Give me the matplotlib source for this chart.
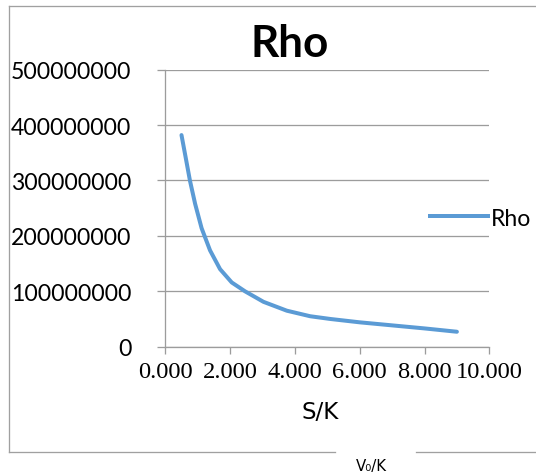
import matplotlib
matplotlib.use("Agg")
import matplotlib.pyplot as plt
from matplotlib.lines import Line2D
from matplotlib.font_manager import FontProperties

# Rho versus S/K
s_over_k = [0.5, 0.64, 0.76, 0.92, 1.12, 1.38, 1.69, 2.05, 2.46, 3.03, 3.75, 4.47,
            5.1, 6.0, 7.0, 8.0, 9.0]
rho = [382e6, 338e6, 300e6, 258e6, 214e6, 174e6, 140e6, 116e6, 100e6, 81e6, 65e6, 55e6,
       50e6, 44e6, 38.5e6, 33e6, 27e6]

x_ticks = [0, 2, 4, 6, 8, 10]
x_tick_labels = ["0.000", "2.000", "4.000", "6.000", "8.000", "10.000"]
y_ticks = [0, 100e6, 200e6, 300e6, 400e6, 500e6]
y_tick_labels = ["0", "100000000", "200000000", "300000000", "400000000", "500000000"]

W, H, DPI = 536, 477, 100
PT = 72 / DPI  # points per pixel

serif_fp = FontProperties(family=["Liberation Serif", "DejaVu Serif", "serif"],
                          size=24.5 * PT)
sans_fp = FontProperties(family=["Lato", "DejaVu Sans"], size=23 * PT)

fig = plt.figure(figsize=(W / DPI, H / DPI), dpi=DPI)
fig.patch.set_facecolor("white")

left, right, top, bottom = 165.3, 489.3, 70.7, 347.7
ax = fig.add_axes([left / W, 1 - bottom / H, (right - left) / W, (bottom - top) / H])

grid_c = "#9c9c9c"
line_c = "#5b9bd5"

ax.plot(s_over_k, rho, color=line_c, lw=4 * PT, solid_capstyle="round",
        solid_joinstyle="round", label="Rho", zorder=3)

ax.set_xlim(0, 10)
ax.set_ylim(0, 500e6)
ax.grid(axis="y", color=grid_c, lw=1.3 * PT)
ax.set_axisbelow(True)
for side in ("top", "right"):
    ax.spines[side].set_visible(False)
for side in ("left", "bottom"):
    ax.spines[side].set_color(grid_c)
    ax.spines[side].set_linewidth(1.3 * PT)

ax.tick_params(axis="y", direction="out", length=8 * PT, width=1.3 * PT, color=grid_c,
               pad=26 * PT)
ax.tick_params(axis="x", direction="out", length=7 * PT, width=1.3 * PT, color=grid_c,
               pad=7 * PT)

ax.set_xticks(x_ticks)
ax.set_xticklabels(x_tick_labels)
ax.set_yticks(y_ticks)
ax.set_yticklabels(y_tick_labels)

# Axis title
fig.text(320 / W, 1 - 413 / H, "S/K", ha="center", va="center",
         family="DejaVu Sans", fontsize=23 * PT)

# Chart title
fig.text(290 / W, 1 - 56.7 / H, "Rho", ha="center", va="baseline",
         family="Lato", weight="bold", fontsize=44 * PT)

# Legend
fig.legend(handles=[Line2D([], [], color=line_c, lw=4 * PT)], labels=["Rho"],
           loc="center left", bbox_to_anchor=(430 / W, 1 - 219 / H),
           frameon=False, handlelength=2.5, handletextpad=0.15,
           prop={"family": "Lato", "size": 23 * PT}, borderaxespad=0,
           borderpad=0)

# Chart border (open on the right, with a gap at the bottom)
bc = "#a0a0a0"
bw = 1.3 * PT


def seg(x0, y0, x1, y1):
    fig.add_artist(Line2D([x0 / W, x1 / W], [1 - y0 / H, 1 - y1 / H],
                          color=bc, lw=bw, transform=fig.transFigure))


seg(8.5, 6.7, W + 2, 6.7)
seg(8.5, 6.7, 8.5, 453)
seg(8.5, 453, 335, 453)
seg(416, 453, W + 2, 453)

fig.text(371 / W, 1 - 467 / H, "V\u2080/K", ha="center", va="center",
         family="DejaVu Sans", fontsize=15 * PT)

# Tick label fonts are applied once the ticks exist
fig.canvas.draw()
for lab in ax.get_xticklabels():
    lab.set_fontproperties(serif_fp)
for lab in ax.get_yticklabels():
    lab.set_fontproperties(sans_fp)

fig.savefig("out.png", dpi=DPI, facecolor="white")
